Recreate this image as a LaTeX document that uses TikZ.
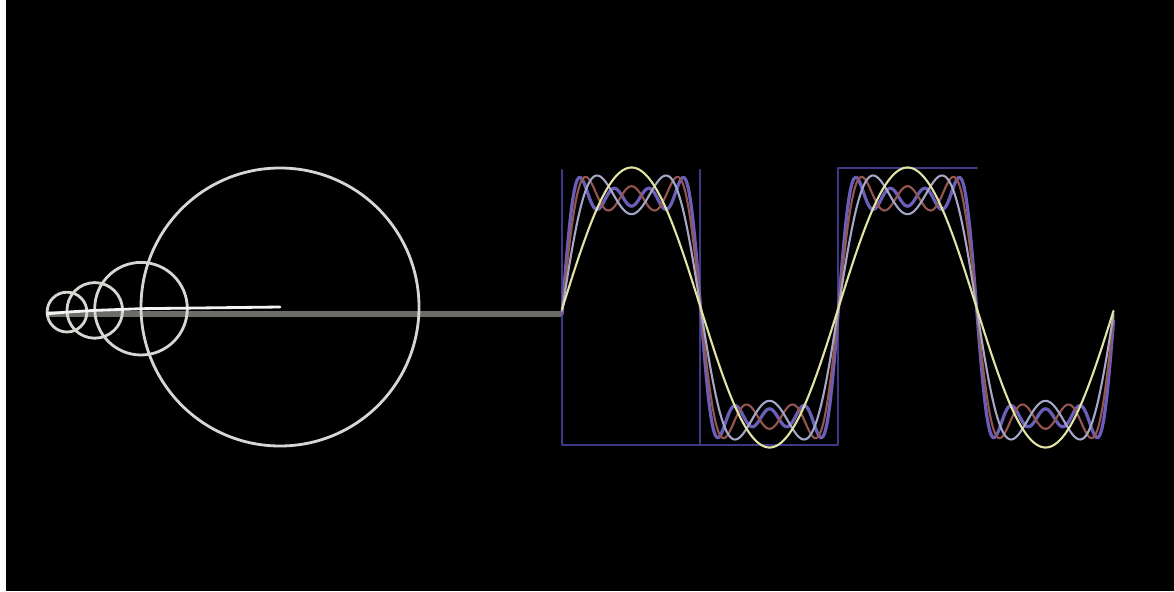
\documentclass[tikz,border=0pt]{standalone}
\usepackage{xcolor}
\usepackage{tikz}
\usetikzlibrary{calc}
\definecolor{ringgray}{HTML}{D6D6D2}
\definecolor{armwhite}{HTML}{F4F4F2}
\definecolor{projgray}{HTML}{6C6D68}
\definecolor{framepurple}{HTML}{3E3A88}
\definecolor{sumyellow}{HTML}{E4E3A6}
\definecolor{sumblue}{HTML}{A4A7C8}
\definecolor{sumred}{HTML}{94564F}
\definecolor{sumpurple}{HTML}{6A5EB8}
\tikzset{
    every picture/.style={line cap=round,line join=round},
    ring/.style={draw=ringgray,line width=2pt},
    arm/.style={draw=armwhite,line width=2pt},
    projline/.style={draw=projgray,line width=4.2pt,line cap=butt},
    sqframe/.style={draw=framepurple,line width=1.6pt},
    partialsum/.style={line width=1.5pt,samples=400,smooth,variable=\x,domain=562:1113.5}
}

\begin{document}
\begin{tikzpicture}[x=0.025cm,y=-0.025cm,
    declare function={ph(\x)=(\x-562)/276*360-0.7;}]
    \useasboundingbox (0,0) rectangle (1174,591);
    \fill[white] (0,0) rectangle (1174,591);
    \fill[black] (6,0) rectangle (1174,591);
    % chain of circles, radii 1, 1/3, 1/5, 1/7
    \coordinate (c0) at (280,307);
    \path (c0) ++(179.3:139) coordinate (c1)
          ++(177.9:46.3) coordinate (c2)
          ++(176.5:27.8) coordinate (c3)
          ++(175.1:19.9) coordinate (tip);
    \coordinate (wleft) at (562,307.5);
    \coordinate (wstart) at (tip -| wleft);
    \draw[projline] (tip)--(wstart);
    \draw[ring] (c0) circle[radius=139];
    \draw[ring] (c1) circle[radius=46.3];
    \draw[ring] (c2) circle[radius=27.8];
    \draw[ring] (c3) circle[radius=19.9];
    \draw[arm] (c0)--(c1)--(c2)--(c3)--(tip);
    % square wave outline
    \draw[sqframe] (562,170)--(562,445)--(838,445)--(838,168)--(977,168);
    \draw[sqframe] (700,170)--(700,445);
    % partial sums
    \draw[partialsum,sumpurple,line width=2.3pt] plot (\x,{307.5-140*(sin(ph(\x))+sin(3*ph(\x))/3+sin(5*ph(\x))/5+sin(7*ph(\x))/7)});
    \draw[partialsum,sumred] plot (\x,{307.5-140*(sin(ph(\x))+sin(3*ph(\x))/3+sin(5*ph(\x))/5)});
    \draw[partialsum,sumblue] plot (\x,{307.5-140*(sin(ph(\x))+sin(3*ph(\x))/3)});
    \draw[partialsum,sumyellow] plot (\x,{307.5-140*sin(ph(\x))});
\end{tikzpicture}
\end{document}
